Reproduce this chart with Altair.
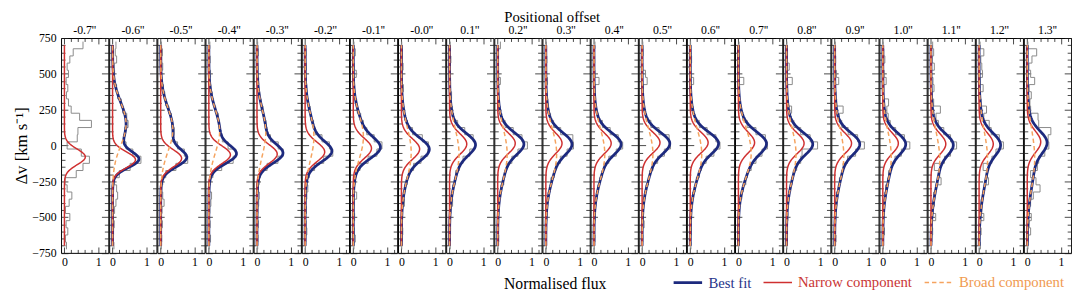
import altair as alt
import numpy as np
import pandas as pd

FONT = "Liberation Serif"

OFFSETS = ["-0.7''", "-0.6''", "-0.5''", "-0.4''", "-0.3''", "-0.2''", "-0.1''",
           "-0.0''", "0.1''", "0.2''", "0.3''", "0.4''", "0.5''", "0.6''", "0.7''",
           "0.8''", "0.9''", "1.0''", "1.1''", "1.2''", "1.3''"]

# velocity bin centres (km/s), top to bottom, bin width 50 km/s
BIN_CENTRES = [700, 650, 600, 550, 500, 450, 400, 350, 300, 250, 200, 150, 100, 50, 0,
               -50, -100, -150, -200, -250, -300, -350, -400, -450, -500, -550, -600, -650, -700]
BIN_HALF = 25

# observed (histogram) normalised flux per panel, same order as BIN_CENTRES
HIST = [
    [0.55, 0.26, 0.16, 0.08, 0.12, 0.05, 0.10, 0.06, 0.12, 0.20, 0.45, 0.80, 0.40, 0.38, 0.08, 0.50, 0.74, 0.55, 0.35, 0.02, 0.08, 0.22, 0.14, 0.03, 0.16, 0.05, 0.10, 0.03, 0.06],
    [0.10, 0.08, 0.12, 0.05, 0.06, 0.04, 0.12, 0.15, 0.26, 0.30, 0.42, 0.46, 0.36, 0.33, 0.40, 0.60, 0.84, 0.52, 0.20, 0.05, 0.12, 0.15, 0.10, 0.06, 0.02, 0.05, 0.03, 0.01, 0.04],
    [0.02, 0.05, 0.03, 0.06, 0.02, 0.04, 0.08, 0.12, 0.15, 0.24, 0.32, 0.33, 0.40, 0.35, 0.50, 0.70, 0.80, 0.45, 0.15, 0.06, 0.03, 0.06, 0.10, 0.04, 0.02, 0.05, 0.01, 0.03, 0.02],
    [0.03, 0.01, 0.04, 0.02, 0.05, 0.03, 0.06, 0.10, 0.14, 0.20, 0.28, 0.31, 0.33, 0.40, 0.57, 0.80, 0.72, 0.38, 0.12, 0.05, 0.02, 0.08, 0.06, 0.03, 0.01, 0.04, 0.02, 0.05, 0.01],
    [0.02, 0.04, 0.01, 0.03, 0.02, 0.05, 0.03, 0.08, 0.12, 0.18, 0.20, 0.27, 0.30, 0.40, 0.63, 0.78, 0.62, 0.30, 0.10, 0.06, 0.04, 0.07, 0.05, 0.03, 0.02, 0.04, 0.01, 0.03, 0.02],
    [0.01, 0.03, 0.02, 0.04, 0.01, 0.03, 0.05, 0.06, 0.10, 0.15, 0.17, 0.25, 0.30, 0.50, 0.72, 0.82, 0.55, 0.28, 0.13, 0.04, 0.08, 0.05, 0.02, 0.04, 0.01, 0.03, 0.05, 0.02, 0.01],
    [0.02, 0.06, 0.01, 0.03, 0.09, 0.02, 0.04, 0.05, 0.10, 0.12, 0.22, 0.30, 0.40, 0.62, 0.85, 0.70, 0.44, 0.20, 0.08, 0.05, 0.02, 0.10, 0.03, 0.02, 0.04, 0.01, 0.03, 0.06, 0.02],
    [0.01, 0.03, 0.02, 0.05, 0.01, 0.03, 0.06, 0.02, 0.05, 0.07, 0.10, 0.18, 0.33, 0.62, 0.80, 0.78, 0.58, 0.36, 0.22, 0.17, 0.10, 0.06, 0.09, 0.02, 0.03, 0.01, 0.04, 0.02, 0.01],
    [0.02, 0.01, 0.04, 0.02, 0.01, 0.03, 0.02, 0.06, 0.04, 0.08, 0.12, 0.24, 0.45, 0.70, 0.76, 0.60, 0.40, 0.29, 0.18, 0.16, 0.10, 0.08, 0.09, 0.04, 0.02, 0.01, 0.03, 0.01, 0.02],
    [0.08, 0.02, 0.01, 0.02, 0.01, 0.08, 0.01, 0.03, 0.05, 0.07, 0.12, 0.22, 0.46, 0.72, 0.88, 0.60, 0.42, 0.26, 0.21, 0.18, 0.10, 0.06, 0.05, 0.02, 0.01, 0.02, 0.01, 0.03, 0.01],
    [0.02, 0.01, 0.03, 0.01, 0.02, 0.05, 0.02, 0.03, 0.06, 0.06, 0.14, 0.23, 0.44, 0.80, 0.82, 0.63, 0.43, 0.30, 0.25, 0.15, 0.13, 0.07, 0.05, 0.02, 0.03, 0.01, 0.02, 0.01, 0.02],
    [0.03, 0.01, 0.02, 0.01, 0.03, 0.15, 0.03, 0.02, 0.04, 0.07, 0.13, 0.25, 0.48, 0.72, 0.85, 0.66, 0.44, 0.30, 0.24, 0.17, 0.12, 0.09, 0.05, 0.02, 0.03, 0.01, 0.02, 0.03, 0.01],
    [0.02, 0.03, 0.01, 0.02, 0.10, 0.15, 0.03, 0.01, 0.04, 0.07, 0.12, 0.26, 0.50, 0.80, 0.84, 0.66, 0.46, 0.32, 0.22, 0.19, 0.12, 0.08, 0.04, 0.03, 0.02, 0.06, 0.01, 0.02, 0.01],
    [0.01, 0.02, 0.04, 0.01, 0.02, 0.10, 0.01, 0.03, 0.05, 0.08, 0.13, 0.27, 0.50, 0.76, 0.88, 0.70, 0.47, 0.33, 0.27, 0.18, 0.14, 0.08, 0.05, 0.03, 0.01, 0.02, 0.03, 0.01, 0.02],
    [0.02, 0.01, 0.03, 0.02, 0.01, 0.16, 0.02, 0.03, 0.05, 0.09, 0.13, 0.26, 0.52, 0.80, 0.86, 0.70, 0.52, 0.38, 0.27, 0.22, 0.14, 0.10, 0.06, 0.03, 0.02, 0.01, 0.03, 0.02, 0.01],
    [0.01, 0.03, 0.02, 0.08, 0.02, 0.17, 0.03, 0.02, 0.04, 0.15, 0.12, 0.22, 0.42, 0.70, 0.92, 0.46, 0.42, 0.30, 0.20, 0.16, 0.12, 0.06, 0.05, 0.02, 0.04, 0.01, 0.03, 0.02, 0.01],
    [0.02, 0.01, 0.03, 0.02, 0.05, 0.12, 0.02, 0.04, 0.06, 0.25, 0.14, 0.21, 0.40, 0.68, 0.88, 0.62, 0.38, 0.25, 0.21, 0.14, 0.11, 0.05, 0.06, 0.02, 0.03, 0.01, 0.02, 0.04, 0.01],
    [0.01, 0.03, 0.06, 0.02, 0.04, 0.10, 0.03, 0.02, 0.17, 0.12, 0.16, 0.22, 0.38, 0.64, 0.80, 0.55, 0.36, 0.26, 0.17, 0.15, 0.08, 0.06, 0.04, 0.03, 0.01, 0.02, 0.05, 0.01, 0.02],
    [0.05, 0.08, 0.04, 0.10, 0.02, 0.06, 0.09, 0.03, 0.08, 0.28, 0.15, 0.22, 0.38, 0.58, 0.76, 0.58, 0.40, 0.10, 0.26, 0.30, 0.14, 0.08, 0.10, 0.06, 0.14, 0.02, 0.05, 0.03, 0.01],
    [0.03, 0.14, 0.05, 0.08, 0.10, 0.03, 0.12, 0.04, 0.06, 0.22, 0.14, 0.30, 0.36, 0.60, 0.72, 0.50, 0.38, 0.12, 0.24, 0.28, 0.16, 0.12, 0.06, 0.08, 0.14, 0.04, 0.06, 0.02, 0.04],
    [0.02, 0.28, 0.14, 0.05, 0.10, 0.22, 0.06, 0.12, 0.08, 0.10, 0.32, 0.34, 0.70, 0.62, 0.64, 0.52, 0.34, 0.30, 0.10, 0.26, 0.38, 0.18, 0.10, 0.04, 0.12, 0.06, 0.10, 0.03, 0.02],
]

# Gaussian fit parameters (amplitude, centre km/s, sigma km/s)
NARROW_AMP = [0.62, 0.68, 0.62, 0.64, 0.60, 0.58, 0.54, 0.54, 0.51, 0.52, 0.48, 0.51, 0.53, 0.53, 0.48, 0.52, 0.50, 0.46, 0.44, 0.42, 0.40]
NARROW_CEN = [-80, -100, -90, -65, -60, -45, -20, -25, 10, 15, 15, 15, 20, 20, 20, 15, 15, 15, 10, 10, 25]
NARROW_SIG = [55, 55, 60, 62, 65, 68, 70, 72, 72, 72, 72, 72, 72, 72, 72, 72, 72, 72, 72, 75, 75]
HAS_BROAD = [False] + [True] * 20
BROAD_AMP = [0.00, 0.40, 0.36, 0.32, 0.26, 0.26, 0.30, 0.29, 0.28, 0.28, 0.32, 0.32, 0.32, 0.34, 0.38, 0.28, 0.27, 0.25, 0.26, 0.25, 0.22]
BROAD_CEN = [0, 150, 110, 100, 90, 60, 60, -50, -60, -60, -60, -60, -60, -60, -50, -60, -70, -80, -100, -100, -90]
BROAD_SIG = [100, 150, 150, 150, 160, 160, 150, 175, 175, 175, 175, 175, 175, 175, 170, 175, 180, 180, 190, 200, 200]

MODEL_VEL = list(range(-700, 701, 10))
COMPS = ["Best fit", "Narrow component", "Broad component"]
COLORS = ["#1d2a7e", "#cf3030", "#f5a35f"]
LABEL_COLORS = ["#27358a", "#c93535", "#f09a50"]
DASHES = [[1, 0], [1, 0], [4.5, 3]]
WIDTHS = [2.8, 1.5, 1.5]

Y_MAJOR = [-750, -500, -250, 0, 250, 500, 750]
Y_MINOR = [v for v in range(-750, 751, 50) if v not in Y_MAJOR]
X_MAJOR = [0, 1]
X_MINOR = [0.2, 0.4, 0.6, 0.8, 1.2]

# ---------------------------------------------------------------- data table
rows = []
for p in range(len(OFFSETS)):
    for j, (vc, f) in enumerate(zip(BIN_CENTRES, HIST[p])):
        rows.append(dict(panel=p, comp="hist", vel=vc + BIN_HALF, flux=f, seq=2 * j))
        rows.append(dict(panel=p, comp="hist", vel=vc - BIN_HALF, flux=f, seq=2 * j + 1))
    v = np.array(MODEL_VEL, dtype=float)
    nar = NARROW_AMP[p] * np.exp(-0.5 * ((v - NARROW_CEN[p]) / NARROW_SIG[p]) ** 2)
    bro = BROAD_AMP[p] * np.exp(-0.5 * ((v - BROAD_CEN[p]) / BROAD_SIG[p]) ** 2)
    for k, vv in enumerate(MODEL_VEL):
        rows.append(dict(panel=p, comp="Narrow component", vel=vv, flux=float(nar[k]), seq=k))
        if HAS_BROAD[p]:
            rows.append(dict(panel=p, comp="Broad component", vel=vv, flux=float(bro[k]), seq=k))
            rows.append(dict(panel=p, comp="Best fit", vel=vv, flux=float(nar[k] + bro[k]), seq=k))
df = pd.DataFrame(rows)

# ---------------------------------------------------------------- helpers
PANEL_W = 48.1
PANEL_H = 218.7
TICK = "#1a1a1a"
XS = alt.Scale(domain=[-0.1, 1.3], nice=False, zero=False)
YS = alt.Scale(domain=[-750, 750], nice=False, zero=False)


def axis(orient, values, size, labels=False, title=None, **extra):
    kw = dict(orient=orient, values=values, tickSize=size, offset=-size, domain=False,
              grid=False, labels=labels, tickColor=TICK, tickWidth=0.8, title=title)
    if labels:
        kw.update(labelPadding=4, labelFontSize=12, labelColor="black", format="d", labelFont=FONT)
    if title:
        kw.update(titleFontSize=16, titleFontWeight="normal", titleColor="black", titleFont=FONT)
    kw.update(extra)
    return alt.Axis(**kw)


LABEL_EXPR = ("datum.label == 'Best fit' ? '%s' : datum.label == 'Narrow component' ? '%s' : '%s'"
              % tuple(LABEL_COLORS))
LEG = alt.Legend(orient="none", legendX=622, legendY=233, direction="horizontal", title=None,
                 symbolType="stroke", symbolSize=841, labelFontSize=15, labelFont=FONT,
                 labelColor={"expr": LABEL_EXPR}, labelOffset=5, columnPadding=9)


def comp_enc():
    return dict(
        color=alt.Color("comp:N", scale=alt.Scale(domain=COMPS, range=COLORS), legend=LEG),
        strokeDash=alt.StrokeDash("comp:N", scale=alt.Scale(domain=COMPS, range=DASHES), legend=LEG),
        strokeWidth=alt.StrokeWidth("comp:N", scale=alt.Scale(type="ordinal", domain=COMPS, range=WIDTHS), legend=LEG),
        order=alt.Order("vel:Q"),
    )


panels = []
for p in range(len(OFFSETS)):
    first = p == 0
    base = alt.Chart().transform_filter(alt.datum.panel == p)
    if first:
        y_major = axis("left", Y_MAJOR, 7, labels=True, title="Δv [km s⁻¹]",
                       titlePadding=1, labelPadding=5, titleFontSize=17)
    else:
        y_major = axis("left", Y_MAJOR, 7)
    if p == 10:
        x_major = axis("bottom", X_MAJOR, 6, labels=True, title="Normalised flux",
                       titleX=12.5, titlePadding=8)
    else:
        x_major = axis("bottom", X_MAJOR, 6, labels=True)

    hist = base.transform_filter(alt.datum.comp == "hist").mark_line(
        color="#8a8a8a", strokeWidth=1.0).encode(
        x=alt.X("flux:Q", scale=XS, axis=x_major),
        y=alt.Y("vel:Q", scale=YS, axis=y_major),
        order=alt.Order("seq:Q"))
    best = base.transform_filter(alt.datum.comp == "Best fit").mark_line().encode(
        x=alt.X("flux:Q", scale=XS, axis=axis("bottom", X_MINOR, 3.5)),
        y=alt.Y("vel:Q", scale=YS, axis=axis("left", Y_MINOR, 4)),
        **comp_enc())
    narrow = base.transform_filter(alt.datum.comp == "Narrow component").mark_line().encode(
        x=alt.X("flux:Q", scale=XS, axis=axis("top", X_MAJOR, 6)),
        y=alt.Y("vel:Q", scale=YS, axis=axis("right", Y_MAJOR, 7)),
        **comp_enc())
    broad = base.transform_filter(alt.datum.comp == "Broad component").mark_line().encode(
        x=alt.X("flux:Q", scale=XS, axis=axis("top", X_MINOR, 3.5)),
        y=alt.Y("vel:Q", scale=YS, axis=axis("right", Y_MINOR, 4)),
        **comp_enc())

    # panel 0's tick label "750" already sticks out above the frame, so its
    # header needs a smaller offset to sit on the same line as the others
    layer = alt.layer(hist, best, narrow, broad).resolve_axis(
        x="independent", y="independent").properties(
        width=PANEL_W, height=PANEL_H,
        title=alt.TitleParams(OFFSETS[p], fontSize=12, font=FONT, fontWeight="normal",
                              offset=-5 if first else 1, anchor="middle", color="black",
                              frame="group"))
    panels.append(layer)

chart = alt.hconcat(
    *panels, data=df, spacing=0, bounds="flush",
    title=alt.TitleParams("Positional offset", fontSize=15, font=FONT, fontWeight="normal",
                          anchor="middle", offset=-2, dx=10, color="black"),
).resolve_scale(
    color="shared", strokeDash="shared", strokeWidth="shared"
).resolve_legend(
    color="shared", strokeDash="shared", strokeWidth="shared"
).properties(
    padding={"left": 4, "right": 0, "top": 0, "bottom": 0}
).configure(font=FONT).configure_view(stroke="black", strokeWidth=1)

chart.save("out.html", embed_options={"renderer": "svg", "actions": False})
